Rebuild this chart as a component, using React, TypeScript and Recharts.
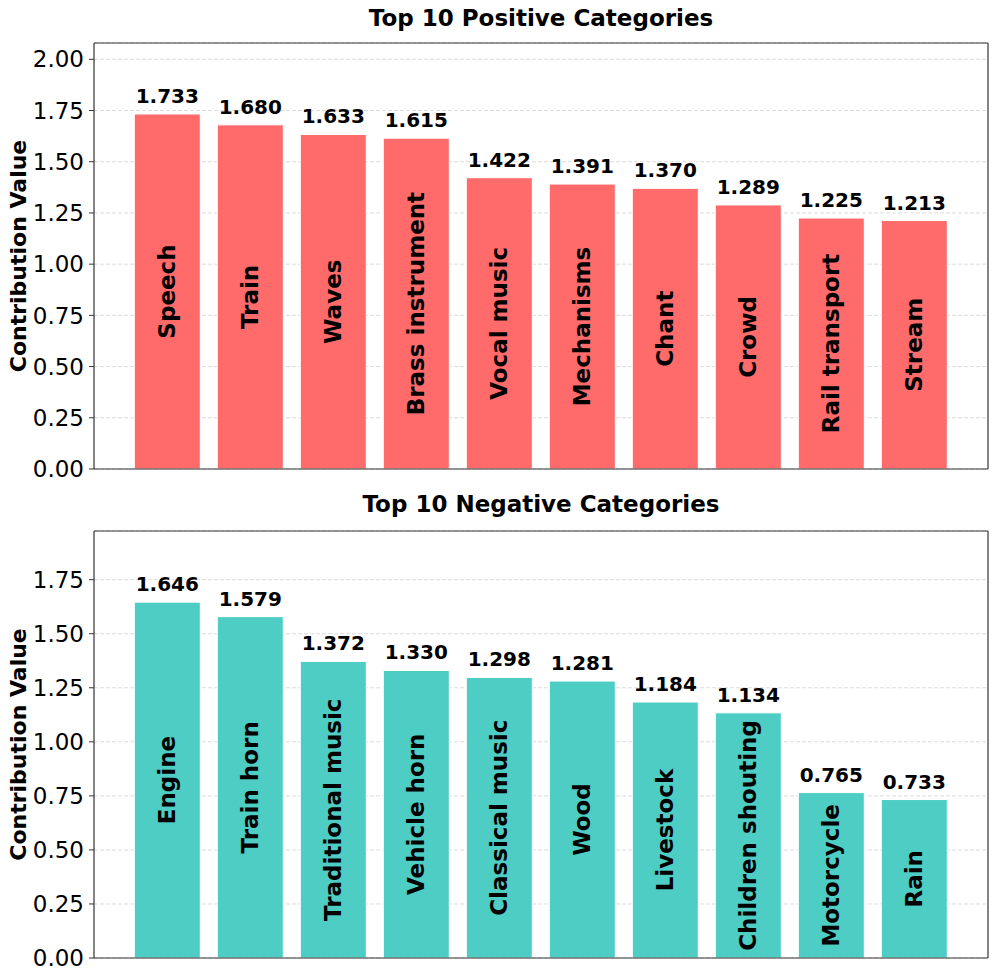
import React from 'react';
import {
  BarChart,
  Bar,
  XAxis,
  YAxis,
  CartesianGrid,
  LabelList,
  Label,
} from 'recharts';

const posCategories = ['Speech', 'Train', 'Waves', 'Brass instrument', 'Vocal music', 'Mechanisms', 'Chant', 'Crowd', 'Rail transport', 'Stream'];
const posValues = [1.733, 1.68, 1.633, 1.615, 1.422, 1.391, 1.37, 1.289, 1.225, 1.213];
const posTicks = [0, 0.25, 0.5, 0.75, 1.0, 1.25, 1.5, 1.75, 2.0];

const negCategories = ['Engine', 'Train horn', 'Traditional music', 'Vehicle horn', 'Classical music', 'Wood', 'Livestock', 'Children shouting', 'Motorcycle', 'Rain'];
const negValues = [1.646, 1.579, 1.372, 1.33, 1.298, 1.281, 1.184, 1.134, 0.765, 0.733];
const negTicks = [0, 0.25, 0.5, 0.75, 1.0, 1.25, 1.5, 1.75];

const FONT = '"DejaVu Sans", sans-serif';
const FRAME = '#333';

const InsideLabel = (props: any) => {
  const { x, y, width, height, value } = props;
  const cx = x + width / 2;
  const cy = y + height / 2;
  return (
    <text
      x={cx}
      y={cy}
      transform={`rotate(-90, ${cx}, ${cy})`}
      textAnchor="middle"
      dominantBaseline="central"
      fontFamily={FONT}
      fontWeight="bold"
      fontSize={23}
      fill="#000"
    >
      {value}
    </text>
  );
};

const YTitle = (props: any) => {
  const vb = props.viewBox || {};
  const cy = vb.y + vb.height / 2;
  return (
    <text
      x={18}
      y={cy}
      transform={`rotate(-90, 18, ${cy})`}
      textAnchor="middle"
      dominantBaseline="central"
      fontFamily={FONT}
      fontWeight="bold"
      fontSize={22}
      fill="#000"
    >
      Contribution Value
    </text>
  );
};

interface PanelProps {
  categories: string[];
  values: number[];
  ticks: number[];
  color: string;
  marginTop: number;
  marginBottom: number;
}

const Panel: React.FC<PanelProps> = ({ categories, values, ticks, color, marginTop, marginBottom }) => {
  const data = categories.map((name, i) => ({ name, value: values[i] }));
  const yMax = Math.max(...values) * 1.2;
  const line = { stroke: FRAME, strokeWidth: 1.2 };

  return (
    <BarChart
      width={996}
      height={490}
      data={data}
      margin={{ top: marginTop - 1, right: 7, bottom: marginBottom - 1, left: 0 }}
      barCategoryGap="10%"
    >
      <CartesianGrid vertical={false} stroke="#dcdcdc" strokeDasharray="4 2" />
      <XAxis
        dataKey="name"
        tick={false}
        tickLine={false}
        height={1}
        padding={{ left: 32, right: 32 }}
        axisLine={line}
      />
      <XAxis
        xAxisId="top"
        orientation="top"
        dataKey="name"
        tick={false}
        tickLine={false}
        height={1}
        padding={{ left: 32, right: 32 }}
        axisLine={line}
      />
      <YAxis
        width={94}
        domain={[0, yMax]}
        ticks={ticks}
        interval={0}
        tickFormatter={(v: number) => v.toFixed(2)}
        tick={{ fontFamily: FONT, fontSize: 23, fill: '#000' }}
        tickSize={5}
        tickMargin={5}
        tickLine={{ stroke: FRAME }}
        axisLine={line}
        allowDataOverflow
      >
        <Label content={<YTitle />} />
      </YAxis>
      <YAxis
        yAxisId="right"
        orientation="right"
        width={1}
        domain={[0, yMax]}
        tick={false}
        tickLine={false}
        axisLine={line}
      />
      <Bar dataKey="value" fill={color} stroke="#fff" strokeWidth={1} isAnimationActive={false}>
        <LabelList
          dataKey="value"
          position="top"
          offset={11}
          formatter={(v: number) => v.toFixed(3)}
          style={{ fontFamily: FONT, fontWeight: 'bold', fontSize: 20, fill: '#000' }}
        />
        <LabelList dataKey="name" content={<InsideLabel />} />
      </Bar>
    </BarChart>
  );
};

const titleStyle: React.CSSProperties = {
  position: 'absolute',
  left: 94,
  width: 894,
  textAlign: 'center',
  fontFamily: FONT,
  fontWeight: 'bold',
  fontSize: 23,
  lineHeight: '23px',
  color: '#000',
};

export default function App() {
  return (
    <div style={{ position: 'absolute', left: 0, top: 0, width: 996, height: 980, background: '#fff' }}>
      <div style={{ position: 'absolute', left: 0, top: 0 }}>
        <Panel categories={posCategories} values={posValues} ticks={posTicks} color="#FF6B6B" marginTop={43} marginBottom={21} />
      </div>
      <div style={{ position: 'absolute', left: 0, top: 490 }}>
        <Panel categories={negCategories} values={negValues} ticks={negTicks} color="#4ECDC4" marginTop={41} marginBottom={22} />
      </div>
      <div style={{ ...titleStyle, top: 7 }}>Top 10 Positive Categories</div>
      <div style={{ ...titleStyle, top: 493 }}>Top 10 Negative Categories</div>
    </div>
  );
}
